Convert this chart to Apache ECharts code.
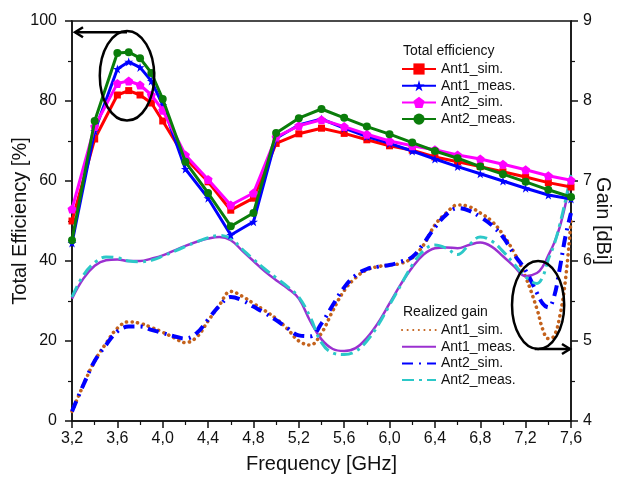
<!DOCTYPE html>
<html>
<head>
<meta charset="utf-8">
<script src="https://cdn.jsdelivr.net/npm/echarts@6/dist/echarts.min.js"></script>
<style>html,body{margin:0;padding:0;background:#fff}#c{width:620px;height:484px}</style>
</head>
<body>
<div id="c"></div>
<script>
// ---- Data ----
const effFreq = [3.2,3.4,3.6,3.7,3.8,3.9,4.0,4.2,4.4,4.6,4.8,5.0,5.2,5.4,5.6,5.8,6.0,6.2,6.4,6.6,6.8,7.0,7.2,7.4,7.6];
const effAnt1Sim  = [50,70.5,81.5,82.6,81.5,79.5,75,65.7,59.8,52.7,55.7,69.4,71.8,73.2,71.9,70.3,68.8,67.7,66,64.8,63.6,62.3,61,59.6,58.5];
const effAnt1Meas = [44.5,72.5,88,89.8,88.4,85,79,63,55.7,46.5,49.8,70.7,74,75.5,73.2,71.1,69.4,67.5,65.5,63.6,61.8,60,58.2,56.5,55.5];
const effAnt2Sim  = [53,73.6,84.4,85,84,81.5,77.7,66.5,60.4,54,57,71,73.8,75.3,73.6,71.7,70,68.8,67.8,66.5,65.5,64.2,62.8,61.3,60.2];
const effAnt2Meas = [45.2,75,92,92.2,90.7,87,80.5,64.8,57,48.7,52,72,75.7,78,75.8,73.6,71.7,69.6,67.5,65.7,63.6,61.7,59.8,57.8,56];

const gainFreq = [3.2,3.3,3.4,3.5,3.6,3.7,3.8,3.9,4.0,4.1,4.2,4.3,4.4,4.5,4.6,4.7,4.8,4.9,5.0,5.1,5.2,5.3,5.4,5.5,5.6,5.7,5.8,5.9,6.0,6.1,6.2,6.3,6.4,6.5,6.6,6.7,6.8,6.9,7.0,7.1,7.2,7.3,7.35,7.4,7.45,7.5,7.55,7.6];
const gainAnt1Sim  = [4.12,4.45,4.75,4.97,5.16,5.24,5.22,5.17,5.11,5.04,4.98,5.05,5.25,5.45,5.62,5.56,5.47,5.38,5.28,5.15,5.0,4.95,5.1,5.38,5.63,5.79,5.89,5.93,5.95,5.97,6.04,6.2,6.45,6.6,6.7,6.68,6.6,6.5,6.33,6.1,5.8,5.4,5.15,5.03,5.06,5.3,5.75,6.5];
const gainAnt1Meas = [5.53,5.78,5.94,6.01,6.02,6.0,6.0,6.03,6.07,6.13,6.19,6.24,6.28,6.30,6.26,6.13,6.0,5.87,5.76,5.66,5.53,5.25,5.02,4.90,4.875,4.91,5.04,5.23,5.47,5.71,5.92,6.08,6.16,6.17,6.16,6.2,6.23,6.18,6.06,5.93,5.81,5.85,5.93,6.07,6.22,6.42,6.7,7.05];
const gainAnt2Sim  = [4.12,4.45,4.75,4.95,5.12,5.18,5.18,5.14,5.1,5.06,5.03,5.1,5.27,5.44,5.55,5.51,5.43,5.35,5.26,5.16,5.07,5.06,5.22,5.45,5.67,5.82,5.9,5.93,5.95,5.99,6.05,6.22,6.42,6.58,6.66,6.63,6.55,6.45,6.3,6.08,5.88,5.6,5.47,5.42,5.55,5.9,6.3,6.6];
const gainAnt2Meas = [5.55,5.82,5.98,6.05,6.04,6.0,5.99,6.01,6.06,6.12,6.18,6.24,6.29,6.32,6.28,6.15,6.02,5.9,5.79,5.68,5.55,5.3,4.98,4.85,4.83,4.87,5.0,5.2,5.45,5.7,5.95,6.13,6.2,6.16,6.08,6.2,6.3,6.25,6.12,5.96,5.8,5.72,5.8,6.02,6.2,6.45,6.75,7.08];

const xTicks = {min:3.2, max:7.6, step:0.4};
const effTicks = {min:0, max:100, step:20};
const gainTicks = {min:4, max:9, step:1};

const effNames = ['Ant1_sim.','Ant1_meas.','Ant2_sim.','Ant2_meas.'];
const gainNames = ['Ant1_sim.','Ant1_meas.','Ant2_sim.','Ant2_meas.'];

// ---- Build ----
const pairs = (xs, ys) => xs.map((x,i)=>[x, ys[i]]);
const FONT = 'Liberation Sans, Arial, sans-serif';
const star = 'path://M0,-1 L0.2245,-0.309 L0.951,-0.309 L0.363,0.118 L0.588,0.809 L0,0.382 L-0.588,0.809 L-0.363,0.118 L-0.951,-0.309 L-0.2245,-0.309 Z';
const penta = 'path://M0,-1 L0.951,-0.309 L0.588,0.809 L-0.588,0.809 L-0.951,-0.309 Z';

const effStyles = [
  {color:'#ff0000', symbol:'rect', size:7},
  {color:'#0000ff', symbol:star, size:9},
  {color:'#ff00ff', symbol:penta, size:9},
  {color:'#0a7d0a', symbol:'circle', size:8}
];
const effData = [effAnt1Sim, effAnt1Meas, effAnt2Sim, effAnt2Meas];
const gainData = [gainAnt1Sim, gainAnt1Meas, gainAnt2Sim, gainAnt2Meas];
const gainStyles = [
  {color:'#c4621c', type:[0.1,5.5], width:3.6, cap:'round'},
  {color:'#9b30d0', type:'solid', width:2.5, cap:'butt'},
  {color:'#0000ff', type:[11,6,2,6], width:4, cap:'butt'},
  {color:'#2cc8c8', type:[12,5,3,5], width:3, cap:'butt'}
];

const series = [];
effData.forEach((d,i)=>{
  const s = effStyles[i];
  series.push({
    name:'eff|'+effNames[i], type:'line', xAxisIndex:0, yAxisIndex:0,
    data: pairs(effFreq, d), symbol:s.symbol, symbolSize:s.size, showAllSymbol:true,
    lineStyle:{color:s.color, width:3}, itemStyle:{color:s.color, borderWidth:0},
    z: 3+i, animation:false
  });
});
gainData.forEach((d,i)=>{
  const s = gainStyles[i];
  series.push({
    name:'gain|'+gainNames[i], type:'line', xAxisIndex:0, yAxisIndex:1,
    data: pairs(gainFreq, d), symbol:'none', smooth:0.4,
    lineStyle:{color:s.color, width:s.width, type:s.type, cap:s.cap}, itemStyle:{color:s.color},
    z: 2, animation:false
  });
});

const axisLine = {show:true, lineStyle:{color:'#111', width:1.5}};
const label = {color:'#111', fontSize:16, fontFamily:FONT};
const legendText = {color:'#111', fontSize:14, fontFamily:FONT};

const chart = echarts.init(document.getElementById('c'), null, {renderer:'canvas'});
const option = {
  backgroundColor:'#fff',
  animation:false,
  grid:{left:72, right:49, top:21, bottom:63, containLabel:false, outerBoundsMode:'none',
        show:true, borderColor:'#111', borderWidth:1.5, backgroundColor:'transparent'},
  xAxis:[{
    type:'value', min:xTicks.min, max:xTicks.max, interval:xTicks.step,
    name:'Frequency [GHz]', nameLocation:'middle', nameGap:33, nameMoveOverlap:false,
    nameTextStyle:{fontSize:20, color:'#111', fontFamily:FONT},
    axisLine, axisTick:{show:true, inside:false, length:7, lineStyle:{color:'#111', width:1.5}},
    minorTick:{show:true, splitNumber:2, length:4, lineStyle:{color:'#111', width:1.2}},
    splitLine:{show:false},
    axisLabel:Object.assign({margin:10, formatter:v=>v.toFixed(1).replace('.',',')}, label)
  }],
  yAxis:[{
    type:'value', min:effTicks.min, max:effTicks.max, interval:effTicks.step, position:'left',
    name:'Total Efficiency [%]', nameLocation:'middle', nameGap:42, nameRotate:90, nameMoveOverlap:false,
    nameTextStyle:{fontSize:20, color:'#111', fontFamily:FONT},
    axisLine, axisTick:{show:true, length:7, lineStyle:{color:'#111', width:1.5}},
    minorTick:{show:true, splitNumber:2, length:4, lineStyle:{color:'#111', width:1.2}},
    splitLine:{show:false},
    axisLabel:Object.assign({margin:15}, label)
  },{
    type:'value', min:gainTicks.min, max:gainTicks.max, interval:gainTicks.step, position:'right',
    name:'Gain [dBi]', nameLocation:'middle', nameGap:22, nameRotate:-90, nameMoveOverlap:false,
    nameTextStyle:{fontSize:20, color:'#111', fontFamily:FONT},
    axisLine, axisTick:{show:true, length:7, lineStyle:{color:'#111', width:1.5}},
    minorTick:{show:true, splitNumber:2, length:4, lineStyle:{color:'#111', width:1.2}},
    splitLine:{show:false},
    axisLabel:Object.assign({margin:12}, label)
  }],
  legend:[{
    orient:'vertical', left:401, top:62, padding:0, itemGap:2.7, itemWidth:34, itemHeight:14,
    data: effNames.map(n=>'eff|'+n), textStyle:legendText,
    formatter: n=>n.split('|')[1]
  },{
    orient:'vertical', left:401, top:323, padding:0, itemGap:2.7, itemWidth:34, itemHeight:14,
    data: gainNames.map(n=>'gain|'+n), textStyle:legendText,
    itemStyle:{opacity:0},
    formatter: n=>n.split('|')[1]
  }],
  series
};
chart.setOption(option);

// Annotations (ellipses + arrows) placed via data coordinates
const p0 = (x,y)=>chart.convertToPixel({xAxisIndex:0, yAxisIndex:0}, [x,y]);
const p1 = (x,y)=>chart.convertToPixel({xAxisIndex:0, yAxisIndex:1}, [x,y]);
const c1 = p0(3.685, 86.3), e1 = p0(3.685+0.24, 86.3-11.2);
const a1s = p0(3.685, 97.2), a1e = p0(3.2, 97.2);
const c2 = p1(7.31, 5.45), e2 = p1(7.31+0.23, 5.45-0.55);
const a2s = p1(7.28, 4.9), a2e = p1(7.6, 4.9);
const ann = {stroke:'#000', lineWidth:2.5, fill:'none'};
chart.setOption({graphic:[
  {type:'text', left:403, top:44, style:{text:'Total efficiency', fill:'#111', font:'14px '+FONT}},
  {type:'text', left:403, top:305, style:{text:'Realized gain', fill:'#111', font:'14px '+FONT}},
  {type:'ellipse', shape:{cx:c1[0], cy:c1[1], rx:e1[0]-c1[0], ry:e1[1]-c1[1]}, style:ann, z:100},
  {type:'polyline', shape:{points:[a1s, [a1e[0]+3, a1e[1]]]}, style:ann, z:100},
  {type:'polyline', shape:{points:[[a1e[0]+11, a1e[1]-5],[a1e[0]+3, a1e[1]],[a1e[0]+11, a1e[1]+5]]}, style:ann, z:100},
  {type:'ellipse', shape:{cx:c2[0], cy:c2[1], rx:e2[0]-c2[0], ry:e2[1]-c2[1]}, style:ann, z:100},
  {type:'polyline', shape:{points:[a2s, [a2e[0]-1, a2e[1]]]}, style:ann, z:100},
  {type:'polyline', shape:{points:[[a2e[0]-9, a2e[1]-5],[a2e[0]-1, a2e[1]],[a2e[0]-9, a2e[1]+5]]}, style:ann, z:100}
]});
</script>
</body>
</html>
